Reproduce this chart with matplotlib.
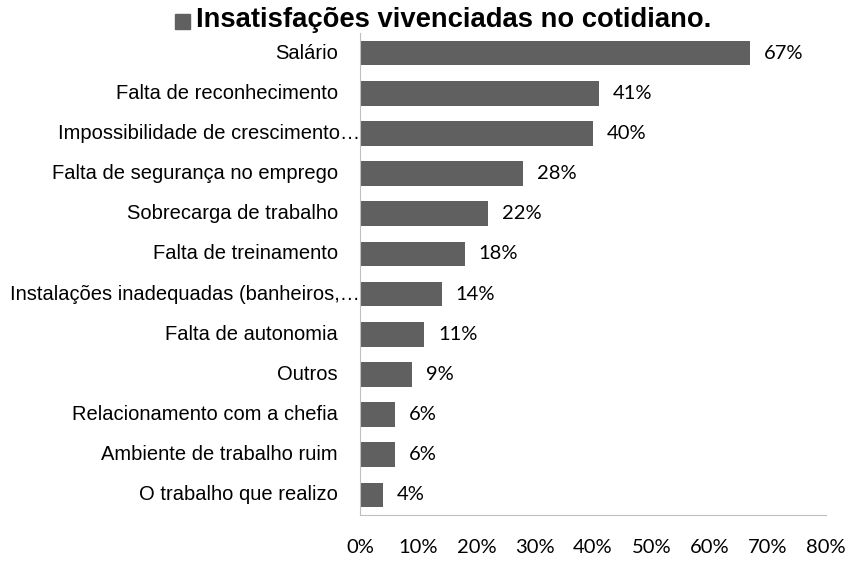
import matplotlib
matplotlib.use('Agg')
import matplotlib.pyplot as plt

categorias = ['Salário', 'Falta de reconhecimento', 'Impossibilidade de crescimento…',
              'Falta de segurança no emprego', 'Sobrecarga de trabalho', 'Falta de treinamento',
              'Instalações inadequadas (banheiros,…', 'Falta de autonomia', 'Outros',
              'Relacionamento com a chefia', 'Ambiente de trabalho ruim', 'O trabalho que realizo']
valores = [67, 41, 40, 28, 22, 18, 14, 11, 9, 6, 6, 4]
truncados = ['Impossibilidade de crescimento…', 'Instalações inadequadas (banheiros,…']
xticks = [0, 10, 20, 30, 40, 50, 60, 70, 80]

cor_barra = '#606060'
fonte_rotulo = 'Liberation Sans'
fonte_num = 'Lato'

fig = plt.figure(figsize=(8.57, 5.74), dpi=100)
ax = fig.add_axes([360/857, 1-515/574, (826-360)/857, (515-33)/574])

n = len(categorias)
ypos = [n-1-i for i in range(n)]
barras = ax.barh(ypos, valores, height=0.61, color=cor_barra)

ax.set_xlim(0, 80)
ax.set_ylim(-0.5, n-0.5)
ax.set_xticks(xticks)
ax.set_xticklabels([str(t)+'%' for t in xticks], fontsize=14.5, family=fonte_num)
ax.tick_params(axis='x', length=0, pad=17)
ax.set_yticks([])

for s in ['top', 'right']:
    ax.spines[s].set_visible(False)
ax.spines['left'].set_color('#bfbfbf')
ax.spines['bottom'].set_color('#bfbfbf')

# rotulos das categorias
for nome, y in zip(categorias, ypos):
    off = 0 if nome in truncados else -16
    ax.annotate(nome, xy=(0, y), xycoords=('axes fraction', 'data'), xytext=(off, 0),
                textcoords='offset points', ha='right', va='center', fontsize=14.5,
                family=fonte_rotulo)

ax.bar_label(barras, labels=[str(v)+'%' for v in valores], padding=10,
             fontsize=14.5, family=fonte_num)

# titulo com o marcador da legenda
fig.patches.append(plt.Rectangle((175/857, 1-29/574), 15/857, 15/574,
                                 transform=fig.transFigure, color=cor_barra))
fig.text(196/857, 1-20/574, 'Insatisfações vivenciadas no cotidiano.', fontsize=19.7,
         fontweight='bold', family=fonte_rotulo, va='center', ha='left')

fig.savefig('out.png', dpi=100)
